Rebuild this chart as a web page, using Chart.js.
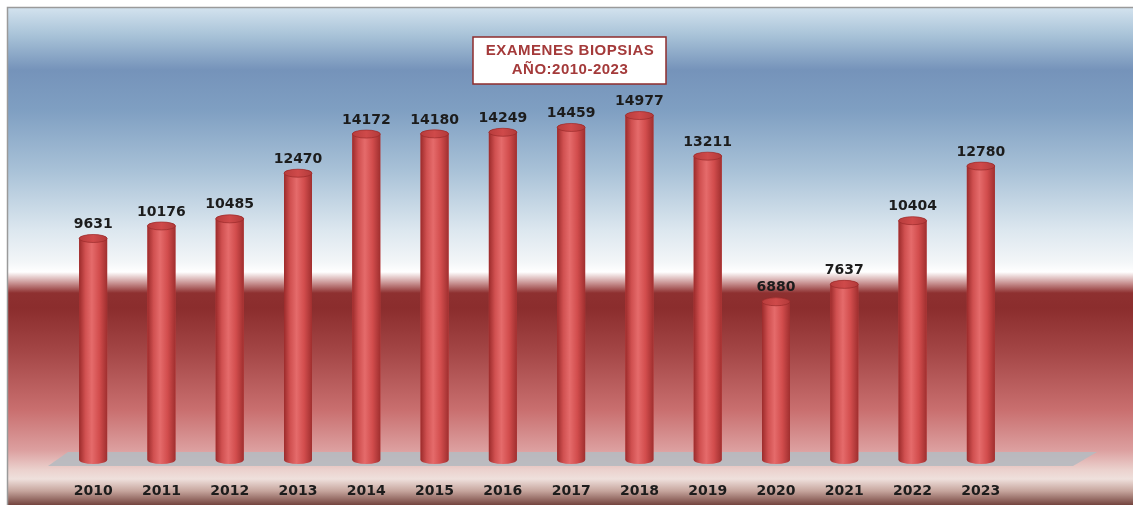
<!DOCTYPE html>
<html>
<head>
<meta charset="utf-8">
<script src="https://cdn.jsdelivr.net/npm/chart.js@4.4.1/dist/chart.umd.min.js"></script>
<style>
  html, body { margin: 0; padding: 0; background: #fff; }
  canvas { display: block; }
</style>
</head>
<body>
<canvas id="chart" width="1133" height="507"></canvas>
<script>
// data
const years = ['2010', '2011', '2012', '2013', '2014', '2015', '2016', '2017', '2018', '2019', '2020', '2021', '2022', '2023'];
const biopsias = [9631, 10176, 10485, 12470, 14172, 14180, 14249, 14459, 14977, 13211, 6880, 7637, 10404, 12780];
const titleLines = ['EXAMENES BIOPSIAS', 'AÑO:2010-2023'];
const yMax = 18000;

const labelFont = 'bold 14px "DejaVu Sans", Verdana, sans-serif';

// sky / red band background behind the plot
const backdrop = {
    id: 'backdrop',
    beforeDraw: (chart) => {
        const ctx = chart.ctx;
        const x0 = 8, y0 = 8, x1 = chart.width, y1 = chart.height - 2;
        ctx.save();
        ctx.fillStyle = '#ffffff';
        ctx.fillRect(0, 0, chart.width, chart.height);
        const h = y1 - y0;
        const g = ctx.createLinearGradient(0, y0, 0, y1);
        const stops = [
            [8, '#d2e2ee'], [35, '#a9c3d8'], [70, '#7593ba'], [110, '#7f9fc2'],
            [170, '#a8c1d7'], [230, '#dce7ef'], [262, '#f3f6f8'], [272, '#ffffff'],
            [283, '#c99393'], [293, '#8e3030'], [308, '#8b2d2d'], [350, '#a34545'],
            [410, '#c96f6f'], [450, '#dc9f9f'], [470, '#ebd2ce'], [479, '#efe0dc'],
            [491, '#c6a59d'], [505, '#74443e']
        ];
        stops.forEach(s => g.addColorStop(Math.min(1, Math.max(0, (s[0] - y0) / h)), s[1]));
        ctx.fillStyle = g;
        ctx.fillRect(x0, y0, x1 - x0, h);
        ctx.strokeStyle = '#9a9a9a';
        ctx.lineWidth = 1.5;
        ctx.beginPath();
        ctx.moveTo(x0 - 0.5, y1);
        ctx.lineTo(x0 - 0.5, y0 - 0.5);
        ctx.lineTo(x1, y0 - 0.5);
        ctx.stroke();
        ctx.restore();
    },
    beforeDatasetsDraw: (chart) => {
        // grey floor under the cylinders
        const ctx = chart.ctx;
        const a = chart.chartArea;
        const b = chart.scales.y.getPixelForValue(0);
        ctx.save();
        ctx.fillStyle = 'rgba(182,186,192,0.9)';
        ctx.beginPath();
        ctx.moveTo(a.left + 9, b - 8);
        ctx.lineTo(a.right + 82, b - 8);
        ctx.lineTo(a.right + 58, b + 6);
        ctx.lineTo(a.left - 11, b + 6);
        ctx.closePath();
        ctx.fill();
        ctx.restore();
    }
};

// turn each bar into a cylinder and write its value on top
const cylinders = {
    id: 'cylinders',
    afterDatasetsDraw: (chart) => {
        const ctx = chart.ctx;
        const meta = chart.getDatasetMeta(0);
        ctx.save();
        meta.data.forEach((el, i) => {
            const p = el.getProps(['x', 'y', 'base', 'width'], true);
            const rx = p.width / 2, ry = 4;
            const top = p.y, base = p.base;
            const g = ctx.createLinearGradient(p.x - rx, 0, p.x + rx, 0);
            g.addColorStop(0, '#9c2b2b');
            g.addColorStop(0.22, '#d05050');
            g.addColorStop(0.45, '#e56b6b');
            g.addColorStop(0.72, '#d24d4d');
            g.addColorStop(1, '#a02f2f');
            ctx.fillStyle = g;
            ctx.beginPath();
            ctx.moveTo(p.x - rx, top);
            ctx.lineTo(p.x - rx, base);
            ctx.ellipse(p.x, base, rx, ry, 0, Math.PI, 0, true);
            ctx.lineTo(p.x + rx, top);
            ctx.ellipse(p.x, top, rx, ry, 0, 0, Math.PI, true);
            ctx.closePath();
            ctx.fill();
            // top cap
            const gc = ctx.createLinearGradient(p.x - rx, 0, p.x + rx, 0);
            gc.addColorStop(0, '#b83c3c');
            gc.addColorStop(0.5, '#cf4a4a');
            gc.addColorStop(1, '#b23a3a');
            ctx.fillStyle = gc;
            ctx.beginPath();
            ctx.ellipse(p.x, top, rx, ry, 0, 0, Math.PI * 2);
            ctx.fill();
            ctx.strokeStyle = 'rgba(150,40,40,0.8)';
            ctx.lineWidth = 0.8;
            ctx.stroke();

            ctx.font = labelFont;
            ctx.fillStyle = '#1c1c1c';
            ctx.textAlign = 'center';
            ctx.textBaseline = 'middle';
            ctx.fillText(String(biopsias[i]), p.x, top - 14);
        });
        ctx.restore();
    },
    afterDraw: (chart) => {
        // boxed title
        const ctx = chart.ctx;
        ctx.save();
        ctx.fillStyle = '#ffffff';
        ctx.fillRect(473, 37, 193, 47);
        ctx.strokeStyle = '#8e2c2c';
        ctx.lineWidth = 1.5;
        ctx.strokeRect(473, 37, 193, 47);
        ctx.font = 'bold 15px "Liberation Sans", Arial, sans-serif';
        ctx.letterSpacing = '0.5px';
        ctx.fillStyle = '#a43a3a';
        ctx.textAlign = 'center';
        ctx.textBaseline = 'middle';
        ctx.fillText(titleLines[0], 570, 51);
        ctx.fillText(titleLines[1], 570, 70);
        ctx.restore();
    }
};

new Chart(document.getElementById('chart').getContext('2d'), {
    type: 'bar',
    data: {
        labels: years,
        datasets: [{
            label: 'Biopsias',
            data: biopsias,
            backgroundColor: '#cc4646',
            borderWidth: 0,
            barPercentage: 0.41,
            categoryPercentage: 1
        }]
    },
    options: {
        responsive: false,
        animation: false,
        layout: { padding: { left: 59, right: 118, top: 46, bottom: 0 } },
        plugins: {
            legend: { display: false },
            title: { display: false },
            tooltip: { enabled: false }
        },
        scales: {
            x: {
                grid: { display: false, drawTicks: false },
                border: { display: false },
                ticks: { color: '#1c1c1c', font: { family: '"DejaVu Sans", Verdana, sans-serif', size: 14, weight: 'bold' }, padding: 23 },
                afterFit: (scale) => { scale.height = 47; }
            },
            y: { display: false, min: 0, max: yMax }
        }
    },
    plugins: [backdrop, cylinders]
});
</script>
</body>
</html>
